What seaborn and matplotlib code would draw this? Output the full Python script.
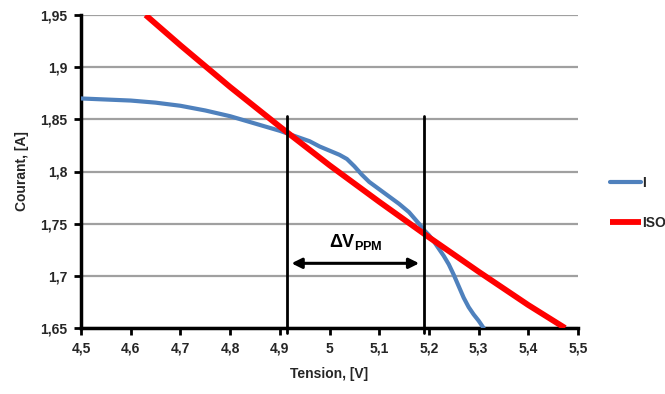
import matplotlib
matplotlib.use("Agg")
import matplotlib.pyplot as plt
import seaborn as sns
import pandas as pd

# Data
i_v = [4.50, 4.55, 4.60, 4.65, 4.70, 4.75, 4.80, 4.85, 4.90, 4.93, 4.96, 4.98, 5.00, 5.02, 5.035,
       5.05, 5.065, 5.08, 5.10, 5.12, 5.14, 5.16, 5.18, 5.19, 5.20, 5.21, 5.22, 5.23, 5.24, 5.25,
       5.26, 5.27, 5.28, 5.29, 5.30, 5.31]
i_a = [1.870, 1.869, 1.868, 1.866, 1.863, 1.8585, 1.853, 1.846, 1.839, 1.834, 1.829, 1.824, 1.820,
       1.816, 1.812, 1.805, 1.797, 1.790, 1.783, 1.776, 1.769, 1.761, 1.750, 1.744, 1.739, 1.733,
       1.726, 1.719, 1.711, 1.701, 1.690, 1.679, 1.670, 1.663, 1.657, 1.650]
iso_v = [4.63, 4.70, 4.80, 4.90, 5.00, 5.10, 5.20, 5.30, 5.40, 5.474]
iso_a = [1.950, 1.921, 1.881, 1.843, 1.806, 1.771, 1.737, 1.704, 1.672, 1.650]
ppm_v = [4.914, 5.19]
ppm_top = 1.853
arrow_a = 1.712
x_ticks = [4.5, 4.6, 4.7, 4.8, 4.9, 5.0, 5.1, 5.2, 5.3, 5.4, 5.5]
x_labels = ["4,5", "4,6", "4,7", "4,8", "4,9", "5", "5,1", "5,2", "5,3", "5,4", "5,5"]
y_ticks = [1.65, 1.70, 1.75, 1.80, 1.85, 1.90, 1.95]
y_labels = ["1,65", "1,7", "1,75", "1,8", "1,85", "1,9", "1,95"]

sns.set_theme(style="white")
plt.rcParams['font.family'] = ['Liberation Sans', 'DejaVu Sans']
plt.rcParams['font.weight'] = 'bold'
plt.rcParams['mathtext.fontset'] = 'custom'
plt.rcParams['mathtext.bf'] = 'Liberation Sans:bold'
plt.rcParams['mathtext.rm'] = 'Liberation Sans:bold'

fig = plt.figure(figsize=(6.65, 3.94), dpi=100)
ax = fig.add_axes([81/665, 1 - 328/394, (578-81)/665, (328-15)/394])

df = pd.concat([
    pd.DataFrame({"V": i_v, "A": i_a, "s": "I"}),
    pd.DataFrame({"V": iso_v, "A": iso_a, "s": "ISO"}),
])
sns.lineplot(data=df[df.s == "I"], x="V", y="A", color="#4F81BD", lw=3.0, sort=False,
             ax=ax, label="I", zorder=3, solid_capstyle="round", solid_joinstyle="round")
sns.lineplot(data=df[df.s == "ISO"], x="V", y="A", color="#FF0000", lw=4.2, sort=False,
             ax=ax, label="ISO", zorder=4, solid_capstyle="butt", solid_joinstyle="round")

for v in ppm_v:
    ax.plot([v, v], [1.645, ppm_top], color="black", lw=2.0, zorder=5, clip_on=False)
ax.annotate("", xy=(ppm_v[1] - 0.004, arrow_a), xytext=(ppm_v[0] + 0.004, arrow_a),
            arrowprops=dict(arrowstyle="<|-|>", color="black", lw=2.2, mutation_scale=15),
            zorder=6)
ax.text(sum(ppm_v) / 2, arrow_a + 0.011, r"$\Delta$V$_{\mathrm{PPM}}$", ha="center", va="bottom",
        fontsize=13, color="black", fontweight="bold")

ax.set_xlim(4.5, 5.5)
ax.set_ylim(1.65, 1.95)
ax.set_xticks(x_ticks)
ax.set_xticklabels(x_labels, fontweight="bold", fontsize=10)
ax.set_yticks(y_ticks)
ax.set_yticklabels(y_labels, fontweight="bold", fontsize=10)
ax.tick_params(axis="both", length=5, width=2, direction="out", color="black", pad=5,
               bottom=True, left=True)
ax.yaxis.grid(True, color="#A0A0A0", lw=1.6)
ax.xaxis.grid(False)
for s in ["top", "right"]:
    ax.spines[s].set_visible(False)
for s in ["left", "bottom"]:
    ax.spines[s].set_color("black")
    ax.spines[s].set_linewidth(2.5)
ax.set_xlabel("Tension, [V]", fontsize=10, fontweight="bold", labelpad=8)
ax.set_ylabel("Courant, [A]", fontsize=10, fontweight="bold", labelpad=8)

leg = ax.legend(loc="center left", bbox_to_anchor=(1.04, 0.40), frameon=False, fontsize=10,
                handlelength=2.2, handletextpad=0.1, labelspacing=1.9)
for t in leg.get_texts():
    t.set_fontweight("bold")

fig.savefig("out.png", dpi=100)
